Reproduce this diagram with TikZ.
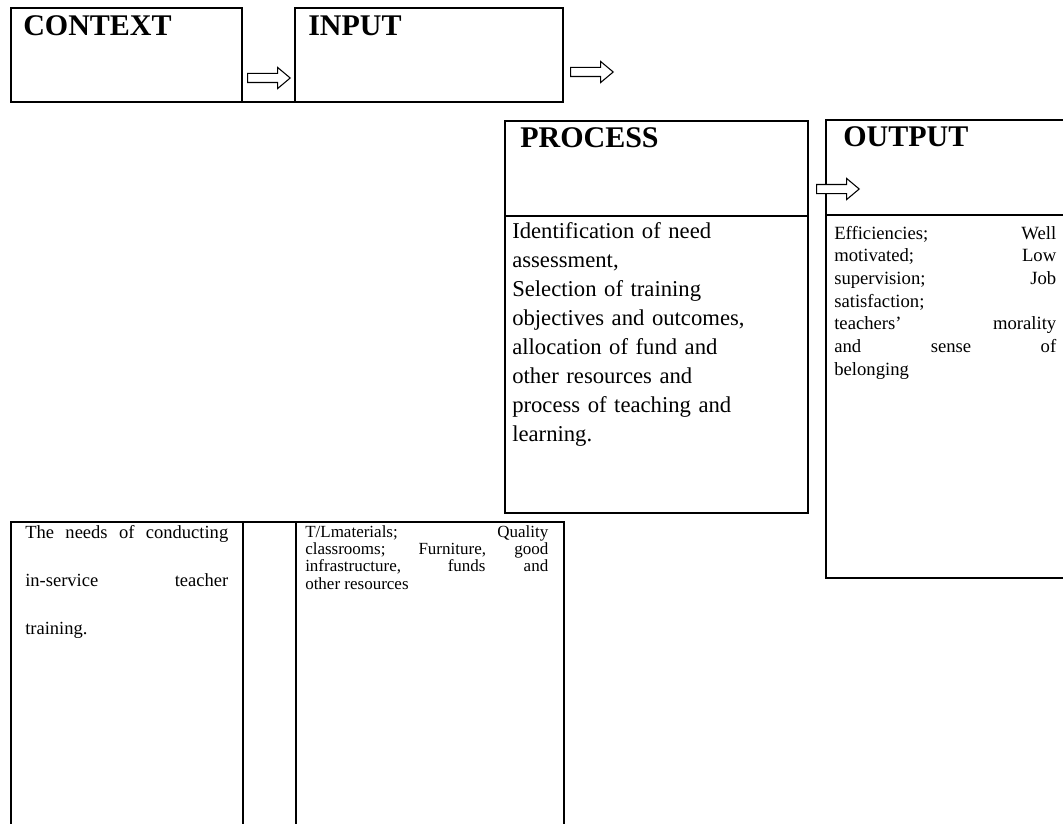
\documentclass[tikz,border=0pt]{standalone}
\usepackage{fontspec}
\setmainfont{Liberation Serif}
\usetikzlibrary{shapes.arrows}
\setlength{\parindent}{0pt}
\tolerance=10000
\hbadness=10000

\begin{document}
\begin{tikzpicture}[x=0.75pt,y=-0.75pt,
  frame/.style={line width=1.9pt},
  head/.style={anchor=base west,inner sep=0pt,font=\fontsize{22.5}{26}\selectfont\bfseries},
  cell/.style={anchor=base west,inner sep=0pt},
  blockarrow/.style={single arrow,draw,fill=white,line width=0.8pt,inner xsep=0pt,inner ysep=3pt,
    text height=0pt,text depth=0pt,single arrow head extend=4.5pt,single arrow tip angle=80,
    minimum height=32pt,anchor=west}]
\useasboundingbox (0,0) rectangle (1063,824);
\clip (0,0) rectangle (1063,824);
% top row
\draw[frame] (11,8) rectangle (242,102);
\draw[frame] (242,102) -- (295,102);
\draw[frame] (295,8) rectangle (563,102);
% process and output
\draw[frame] (505,121) rectangle (808,513);
\draw[frame] (505,216) -- (808,216);
\draw[frame] (1070,120) -- (826,120) -- (826,578) -- (1070,578);
\draw[frame] (826,215) -- (1070,215);
% bottom row
\draw[frame] (11,830) -- (11,522) -- (296,522);
\draw[frame] (243,522) -- (243,830);
\draw[frame] (296,830) -- (296,522) -- (564,522) -- (564,830);
% headings
\node[head] (ctxhead) at (23,36) {CONTEXT};
\node[head] (inphead) at (308,36) {INPUT};
\node[head] (prchead) at (520,147) {PROCESS};
\node[head] (outhead) at (843,146) {OUTPUT};
% cell texts
\node[cell,text width=218pt,align=left,font=\fontsize{17}{21.75}\selectfont] (prctext) at (512,238)
  {Identification of need\\assessment,\\Selection of training\\objectives and outcomes,\\allocation of fund and\\other resources and\\process of teaching and\\learning.};
\node[cell,text width=166.5pt,align=justify,font=\fontsize{14}{17}\selectfont] (outtext) at (834,239)
  {Efficiencies; Well\linebreak motivated; Low\linebreak supervision; Job\linebreak satisfaction;\par
   teachers’ morality\linebreak and sense of\linebreak belonging};
\node[cell,text width=152.25pt,align=justify,font=\fontsize{13.9}{36}\selectfont] (ctxtext) at (25,538)
  {The needs of conducting\linebreak in-service teacher\linebreak training.};
\node[cell,text width=182.25pt,align=justify,font=\fontsize{12.75}{13}\selectfont] (inptext) at (305,537)
  {T/Lmaterials; Quality\linebreak classrooms; Furniture, good\linebreak infrastructure, funds and\linebreak other resources};
% block arrows
\node[blockarrow] (ctxarrow) at (247,78) {};
\node[blockarrow] (inparrow) at (570,72) {};
\node[blockarrow] (prcarrow) at (816,189) {};
\end{tikzpicture}
\end{document}
